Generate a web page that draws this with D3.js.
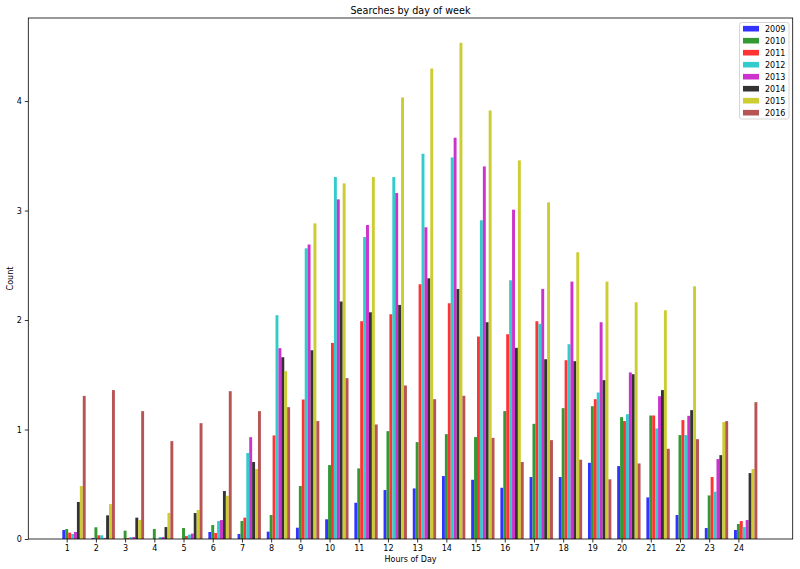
<!DOCTYPE html>
<html>
<head>
<meta charset="utf-8">
<script src="https://cdn.jsdelivr.net/npm/d3@7"></script>
<style>
  html, body { margin: 0; padding: 0; background: #fff; }
  svg text { font-family: "DejaVu Sans", sans-serif; fill: #000; }
</style>
</head>
<body>
<svg id="chart" width="800" height="569"></svg>
<script>
const hours = d3.range(1, 25);
const years = ["2009", "2010", "2011", "2012", "2013", "2014", "2015", "2016"];
const colors = ["#3333ff", "#339933", "#ff3333", "#33cccc", "#cc33cc", "#333333", "#cccc33", "#b75555"];
const yTicks = [0, 1, 2, 3, 4];

const y2009 = [0.082,0.01,0,0,0,0.064,0.046,0.067,0.103,0.18,0.331,0.447,0.462,0.575,0.541,0.468,0.566,0.566,0.696,0.666,0.38,0.219,0.1,0.082];
const y2010 = [0.091,0.107,0.076,0.091,0.1,0.128,0.164,0.219,0.484,0.675,0.645,0.985,0.885,0.958,0.931,1.168,1.052,1.195,1.213,1.113,1.128,0.949,0.398,0.137];
const y2011 = [0.058,0.034,0.01,0,0.027,0.055,0.195,0.946,1.274,1.791,1.989,2.053,2.327,2.153,1.849,1.87,1.989,1.633,1.277,1.077,1.128,1.086,0.566,0.164];
const y2012 = [0.046,0.034,0.018,0.018,0.04,0.164,0.785,2.044,2.655,3.306,2.758,3.306,3.519,3.485,2.911,2.363,1.965,1.779,1.338,1.14,1.01,0.949,0.432,0.109];
const y2013 = [0.064,0.01,0.018,0.018,0.049,0.173,0.93,1.743,2.69,3.102,2.868,3.16,2.847,3.665,3.403,3.008,2.284,2.351,1.98,1.521,1.304,1.125,0.73,0.173];
const y2014 = [0.338,0.216,0.195,0.109,0.237,0.438,0.703,1.66,1.724,2.169,2.071,2.138,2.381,2.284,1.98,1.746,1.642,1.624,1.451,1.505,1.36,1.177,0.766,0.602];
const y2015 = [0.484,0.319,0.173,0.237,0.265,0.395,0.639,1.533,2.883,3.248,3.306,4.033,4.297,4.532,3.914,3.458,3.075,2.619,2.351,2.162,2.089,2.308,1.068,0.639];
const y2016 = [1.307,1.36,1.168,0.894,1.058,1.35,1.168,1.204,1.077,1.469,1.046,1.402,1.277,1.308,0.924,0.703,0.903,0.724,0.545,0.69,0.824,0.912,1.077,1.25];
const series = [y2009, y2010, y2011, y2012, y2013, y2014, y2015, y2016];

const svg = d3.select("#chart");
const L = 28.3, R = 792.7, T = 18, B = 539;
const barW = 0.1;

const x = d3.scaleLinear().domain([-0.315, 25.86]).range([L, R]);
const ymax = d3.max(series, s => d3.max(s)) * 1.05;
const y = d3.scaleLinear().domain([0, ymax]).range([B, T]);

// bars
series.forEach((vals, i) => {
  svg.append("g")
    .selectAll("rect")
    .data(vals.map((v, j) => ({ h: hours[j], v })))
    .join("rect")
    .attr("x", d => x(d.h - 0.15 + i * barW))
    .attr("width", d => x(barW) - x(0))
    .attr("y", d => y(d.v))
    .attr("height", d => y(0) - y(d.v))
    .attr("fill", colors[i]);
});

// axes
const xAxis = d3.axisBottom(x).tickValues(hours).tickSize(3.5).tickPadding(3).tickFormat(d3.format("d"));
const gx = svg.append("g").attr("transform", `translate(0,${B})`).call(xAxis);
gx.select(".domain").remove();
gx.selectAll("text").style("font-size", "8px").style("font-family", "DejaVu Sans");
gx.selectAll("line").attr("stroke", "#000").attr("stroke-width", 0.8);

const yAxis = d3.axisLeft(y).tickValues(yTicks).tickSize(3.5).tickPadding(3).tickFormat(d3.format("d"));
const gy = svg.append("g").attr("transform", `translate(${L},0)`).call(yAxis);
gy.select(".domain").remove();
gy.selectAll("text").style("font-size", "8px").style("font-family", "DejaVu Sans");
gy.selectAll("line").attr("stroke", "#000").attr("stroke-width", 0.8);

// spines
svg.append("rect")
  .attr("x", L).attr("y", T).attr("width", R - L).attr("height", B - T)
  .attr("fill", "none").attr("stroke", "#000").attr("stroke-width", 0.8);

// title and labels
svg.append("text").attr("x", (L + R) / 2).attr("y", 14)
  .attr("text-anchor", "middle").style("font-size", "9.6px")
  .text("Searches by day of week");
svg.append("text").attr("x", (L + R) / 2).attr("y", 562)
  .attr("text-anchor", "middle").style("font-size", "8px")
  .text("Hours of Day");
svg.append("text").attr("transform", `translate(12.5,${(T + B) / 2}) rotate(-90)`)
  .attr("text-anchor", "middle").style("font-size", "8px")
  .text("Count");

// legend
const lg = svg.append("g");
lg.append("rect").attr("x", 739.5).attr("y", 22.5).attr("width", 49.5).attr("height", 96.5)
  .attr("rx", 2).attr("fill", "#fff").attr("fill-opacity", 0.8)
  .attr("stroke", "#cccccc").attr("stroke-width", 0.8);
years.forEach((yr, i) => {
  const cy = 28.7 + i * 12;
  lg.append("rect").attr("x", 743).attr("y", cy - 2.8).attr("width", 16).attr("height", 5.6)
    .attr("fill", colors[i]);
  lg.append("text").attr("x", 765).attr("y", cy + 2.9)
    .style("font-size", "8px").text(yr);
});
</script>
</body>
</html>
